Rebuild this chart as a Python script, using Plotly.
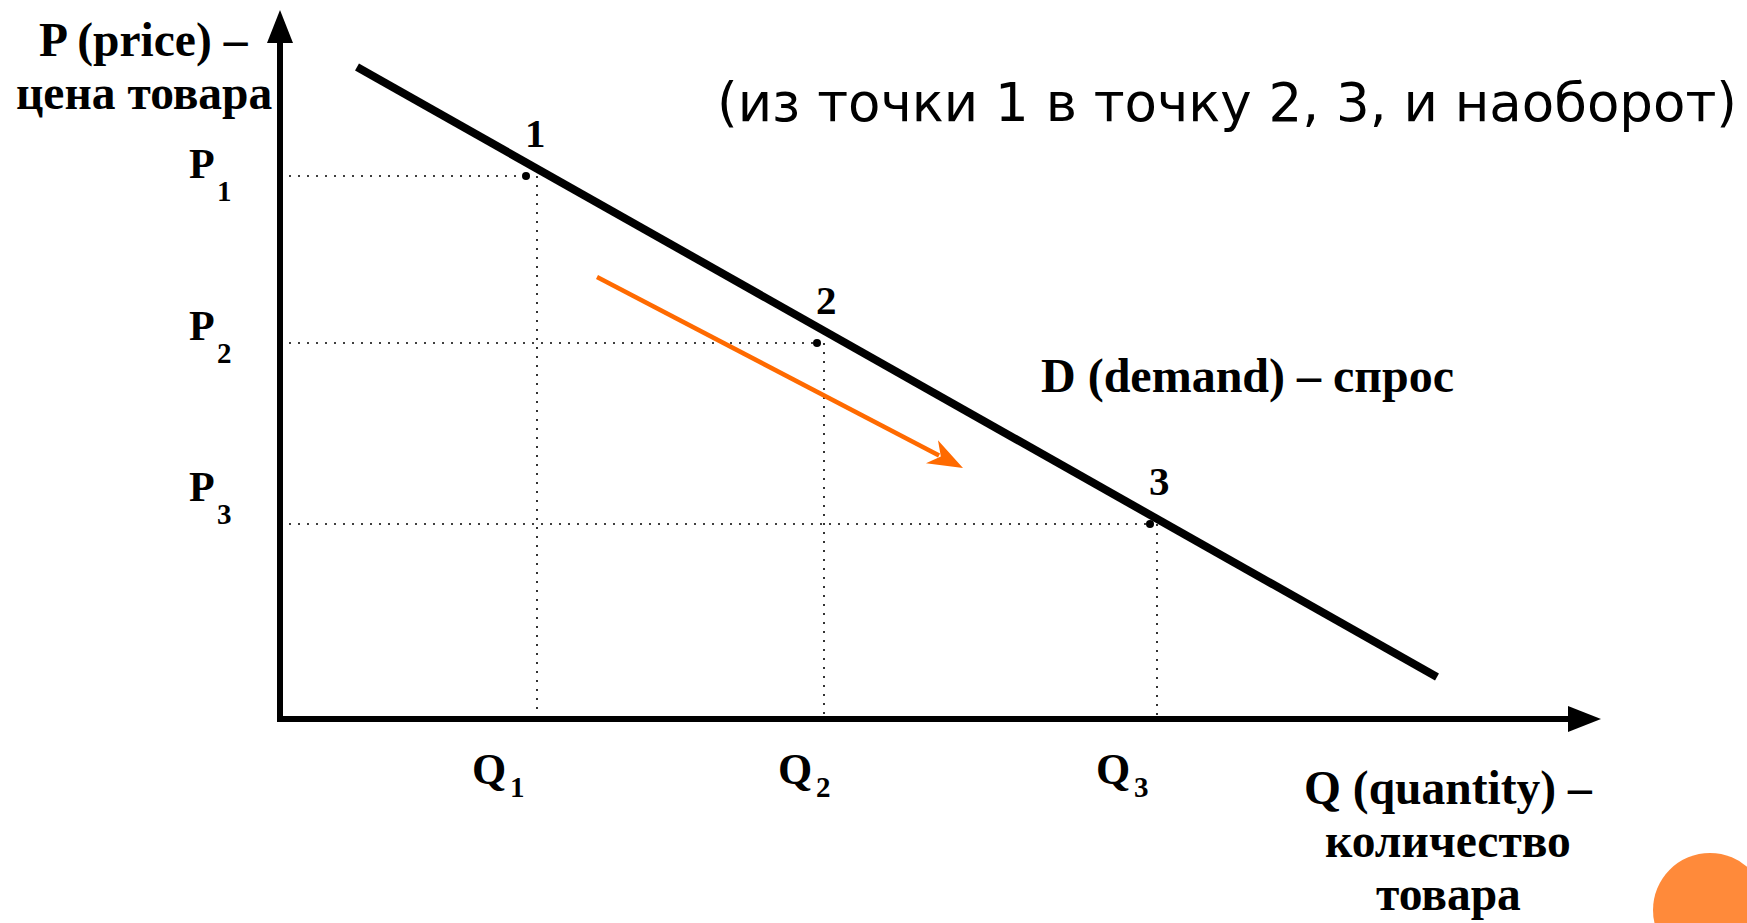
import plotly.graph_objects as go

# ---------------- data (diagram units) ----------------
demand_q = [0.77, 11.57]          # demand line D, start / end quantity
demand_p = [6.52, 0.42]           # demand line D, start / end price

point_names = ["1", "2", "3"]
q_levels = [2.57, 5.44, 8.77]     # Q1, Q2, Q3
p_levels = [5.43, 3.76, 1.95]     # P1, P2, P3
dot_q = [2.46, 5.37, 8.70]        # where points 1..3 are marked

q_names = ["Q", "Q", "Q"]
p_names = ["P", "P", "P"]
subs = ["1", "2", "3"]

move_from = [3.17, 4.42]          # movement along the curve (orange arrow)
move_to = [6.83, 2.51]

x_axis_end = 13.21
y_axis_end = 7.09

y_title = ["P (price) –", "цена товара"]
x_title = ["Q (quantity) –", "количество", "товара"]
curve_label = "D (demand) – спрос"
subtitle = "(из точки 1 в точку 2, 3, и наоборот)"

# ---------------- geometry / style ----------------
W, H = 1747, 923
ORIGIN_PX = (280, 719)
UNIT = 100.0
PX = 1 / UNIT
x_range = [-ORIGIN_PX[0] / UNIT, (W - ORIGIN_PX[0]) / UNIT]
y_range = [-(H - ORIGIN_PX[1]) / UNIT, ORIGIN_PX[1] / UNIT]

SERIF = "Liberation Serif, Times New Roman, serif"
SANS = "DejaVu Sans, Verdana, sans-serif"
ORANGE = "#FF6A00"


def head_path(tip, frm, length, half, notch):
    dx, dy = tip[0] - frm[0], tip[1] - frm[1]
    n = (dx * dx + dy * dy) ** 0.5
    ux, uy = dx / n, dy / n
    vx, vy = -uy, ux
    bx, by = tip[0] - ux * length, tip[1] - uy * length
    p1 = (bx + vx * half, by + vy * half)
    p2 = (bx - vx * half, by - vy * half)
    nb = (tip[0] - ux * (length - notch), tip[1] - uy * (length - notch))
    return (f"M{tip[0]},{tip[1]} L{p1[0]},{p1[1]} L{nb[0]},{nb[1]} "
            f"L{p2[0]},{p2[1]} Z")


fig = go.Figure()

# dotted guide lines
for q, p, dq in zip(q_levels, p_levels, dot_q):
    fig.add_trace(go.Scatter(x=[0, dq], y=[p, p], mode="lines",
                             line=dict(color="black", width=1.6, dash="2px,7px"),
                             hoverinfo="skip", showlegend=False))
    fig.add_trace(go.Scatter(x=[q, q], y=[p, 0], mode="lines",
                             line=dict(color="black", width=1.6, dash="2px,7px"),
                             hoverinfo="skip", showlegend=False))

# demand curve
fig.add_trace(go.Scatter(x=demand_q, y=demand_p, mode="lines",
                         line=dict(color="black", width=8),
                         hoverinfo="skip", showlegend=False))

# points
fig.add_trace(go.Scatter(x=dot_q, y=p_levels, mode="markers",
                         marker=dict(color="black", size=8),
                         hoverinfo="skip", showlegend=False))

# orange movement arrow
HL, HW, HN = 35 * PX, 13 * PX, 10 * PX
dxm, dym = move_to[0] - move_from[0], move_to[1] - move_from[1]
nm = (dxm ** 2 + dym ** 2) ** 0.5
cut = (HL - HN + 2 * PX) / nm
fig.add_trace(go.Scatter(x=[move_from[0], move_to[0] - dxm * cut],
                         y=[move_from[1], move_to[1] - dym * cut],
                         mode="lines", line=dict(color=ORANGE, width=4.5),
                         hoverinfo="skip", showlegend=False))

shapes = []
shapes.append(dict(type="path", path=head_path(move_to, move_from, HL, HW, HN),
                   fillcolor=ORANGE, line=dict(width=0), xref="x", yref="y"))

# axes with arrowheads
AL, AW = 33 * PX, 13 * PX
shapes.append(dict(type="line", x0=0, y0=0, x1=x_axis_end - AL + 2 * PX, y1=0,
                   line=dict(color="black", width=6), xref="x", yref="y"))
shapes.append(dict(type="line", x0=0, y0=-3 * PX, x1=0, y1=y_axis_end - AL + 2 * PX,
                   line=dict(color="black", width=6), xref="x", yref="y"))
shapes.append(dict(type="path", path=head_path([x_axis_end, 0], [0, 0], AL, AW, 0),
                   fillcolor="black", line=dict(width=0), xref="x", yref="y"))
shapes.append(dict(type="path", path=head_path([0, y_axis_end], [0, 0], AL, AW, 0),
                   fillcolor="black", line=dict(width=0), xref="x", yref="y"))

# decorative slide circle (bottom-right corner)
shapes.append(dict(type="circle", xref="paper", yref="paper",
                   x0=1653 / W, x1=1767 / W, y0=1 - 967 / H, y1=1 - 853 / H,
                   fillcolor="#FF8A3A", line=dict(width=0), layer="below"))

ann = []


def txt(x, y, s, size, family=SERIF, bold=True, xshift=0, yshift=0, xanchor="center"):
    ann.append(dict(x=x, y=y, xref="x", yref="y", text=(f"<b>{s}</b>" if bold else s),
                    showarrow=False, font=dict(family=family, size=size, color="black"),
                    xanchor=xanchor, yanchor="middle", xshift=xshift, yshift=yshift))


# point labels 1,2,3
for name, dq, p in zip(point_names, dot_q, p_levels):
    txt(dq, p, name, 41, xshift=9, yshift=43)

# P labels with subscripts
p_label_nudge = [12, 17, 37]
for name, sub, p, nud in zip(p_names, subs, p_levels, p_label_nudge):
    txt(-0.78, p, name, 42, yshift=nud)
    txt(-0.555, p, sub, 29, yshift=nud - 27)

# Q labels with subscripts
q_label_nudge = [-20, -1, -16]
for name, sub, q, nud in zip(q_names, subs, q_levels, q_label_nudge):
    txt(q, 0, name, 44, xshift=nud - 28, yshift=-50)
    txt(q, 0, sub, 29, xshift=nud, yshift=-68)

# axis titles
y_title_center_x = (144 - ORIGIN_PX[0]) * PX
for i, line in enumerate(y_title):
    txt(y_title_center_x, (ORIGIN_PX[1] - 40.5 - 52 * i) * PX, line, 47.5)

x_title_center_x = (1448 - ORIGIN_PX[0]) * PX
for i, line in enumerate(x_title):
    txt(x_title_center_x, (ORIGIN_PX[1] - 788 - 53 * i) * PX, line, 47.5)

# curve label
txt((1247 - ORIGIN_PX[0]) * PX, (ORIGIN_PX[1] - 376) * PX, curve_label, 48)

# subtitle
txt((1226.5 - ORIGIN_PX[0]) * PX, (ORIGIN_PX[1] - 102.5) * PX, subtitle, 53,
    family=SANS, bold=False)

fig.update_layout(
    width=W, height=H, autosize=False,
    margin=dict(l=0, r=0, t=0, b=0, pad=0),
    paper_bgcolor="white", plot_bgcolor="white",
    xaxis=dict(range=x_range, visible=False, fixedrange=True),
    yaxis=dict(range=y_range, visible=False, fixedrange=True),
    shapes=shapes, annotations=ann, showlegend=False,
)

fig.write_html("out.html", config={"displayModeBar": False},
               post_script="document.body.style.margin='0';document.body.style.overflow='hidden';")
